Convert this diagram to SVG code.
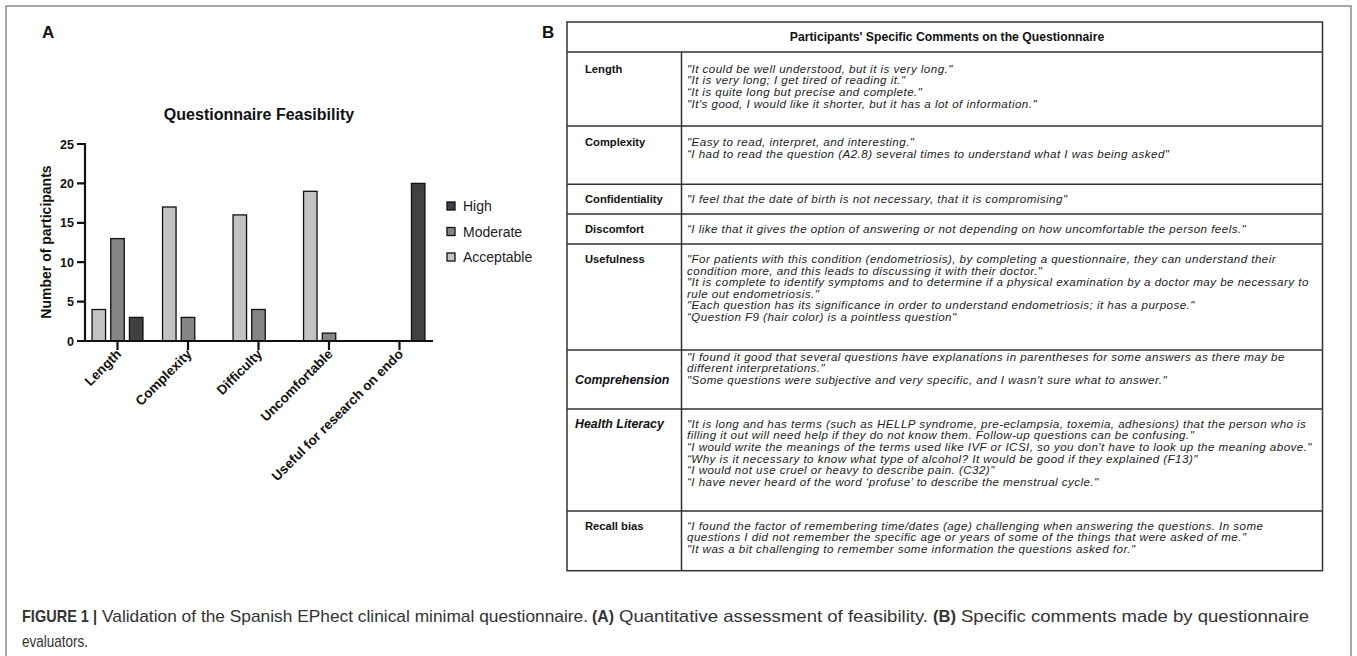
<svg xmlns="http://www.w3.org/2000/svg" width="1357" height="656" viewBox="0 0 1357 656">
<style>
.frame{fill:#fff;stroke:#8a8a8a;stroke-width:1.5}
.panel{font-family:"Liberation Sans",Arial,sans-serif;font-weight:bold;font-size:17px;fill:#111}
.title{font-family:"Liberation Sans",Arial,sans-serif;font-weight:bold;font-size:16px;fill:#111;text-anchor:middle}
.axis{stroke:#111;stroke-width:2.2;fill:none}
.tick{font-family:"Liberation Sans",Arial,sans-serif;font-weight:bold;font-size:12.5px;fill:#111;text-anchor:end}
.ylab{font-family:"Liberation Sans",Arial,sans-serif;font-weight:bold;font-size:14px;fill:#111;text-anchor:middle}
.xlab{font-family:"Liberation Sans",Arial,sans-serif;font-weight:bold;font-size:13.5px;fill:#111;text-anchor:end}
.bar{stroke:#111;stroke-width:1.3}
.hi{fill:#414141}.mo{fill:#858585}.ac{fill:#c3c3c3}
.leg{font-family:"Liberation Sans",Arial,sans-serif;font-size:14px;fill:#222}
.grid{stroke:#333;stroke-width:1.5;fill:none}
.th{font-family:"Liberation Sans",Arial,sans-serif;font-weight:bold;font-size:12.2px;fill:#111;text-anchor:middle}
.rl{font-family:"Liberation Sans",Arial,sans-serif;font-weight:bold;font-size:11.2px;fill:#111}
.rli{font-family:"Liberation Sans",Arial,sans-serif;font-weight:bold;font-style:italic;font-size:12.4px;fill:#111}
.cm{font-family:"Liberation Sans",Arial,sans-serif;font-style:italic;font-size:11.6px;letter-spacing:0.45px;fill:#222}
.cap{font-family:"Liberation Sans",Arial,sans-serif;font-size:17px;fill:#333}
.capb{font-family:"Liberation Sans",Arial,sans-serif;font-size:17px;font-weight:bold;fill:#333}
</style>
<rect class="frame" x="6" y="6" width="1345" height="670"/>

<g id="panel-a">
<text class="panel" x="42" y="38">A</text>
<text class="title" x="259" y="120">Questionnaire Feasibility</text>
<text class="ylab" transform="translate(51,242) rotate(-90)">Number of participants</text>
<g id="y-ticks">
<path class="axis" d="M77 144H85M77 183.4H85M77 222.8H85M77 262.2H85M77 301.6H85M77 341H85"/>
<text class="tick" x="74" y="148.5">25</text>
<text class="tick" x="74" y="187.9">20</text>
<text class="tick" x="74" y="227.3">15</text>
<text class="tick" x="74" y="266.7">10</text>
<text class="tick" x="74" y="306.1">5</text>
<text class="tick" x="74" y="345.5">0</text>
</g>
<g id="bars">
<rect class="bar ac" x="92.05" y="309.5" width="13.5" height="31.5"/>
<rect class="bar mo" x="110.75" y="238.6" width="13.5" height="102.4"/>
<rect class="bar hi" x="129.45" y="317.4" width="13.5" height="23.6"/>
<rect class="bar ac" x="162.55" y="207" width="13.5" height="134"/>
<rect class="bar mo" x="181.25" y="317.4" width="13.5" height="23.6"/>
<rect class="bar ac" x="233.05" y="214.9" width="13.5" height="126.1"/>
<rect class="bar mo" x="251.75" y="309.5" width="13.5" height="31.5"/>
<rect class="bar ac" x="303.55" y="191.3" width="13.5" height="149.7"/>
<rect class="bar mo" x="322.25" y="333.1" width="13.5" height="7.9"/>
<rect class="bar hi" x="411.45" y="183.4" width="13.5" height="157.6"/>
</g>
<path class="axis" d="M85 143V342M84 341H433"/>
<path class="axis" d="M117.5 341V350M188 341V350M258.5 341V350M329 341V350M399.5 341V350"/>
<g id="x-labels">
<text class="xlab" transform="translate(122,355) rotate(-45)">Length</text>
<text class="xlab" transform="translate(192.5,355) rotate(-45)">Complexity</text>
<text class="xlab" transform="translate(263,355) rotate(-45)">Difficulty</text>
<text class="xlab" transform="translate(333.5,355) rotate(-45)">Uncomfortable</text>
<text class="xlab" transform="translate(404,355) rotate(-45)">Useful for research on endo</text>
</g>
<g id="legend">
<rect class="bar hi" x="447" y="202" width="8" height="8"/>
<rect class="bar mo" x="447" y="227.5" width="8" height="8"/>
<rect class="bar ac" x="447" y="253" width="8" height="8"/>
<text class="leg" x="463" y="211">High</text>
<text class="leg" x="463" y="236.5">Moderate</text>
<text class="leg" x="463" y="262">Acceptable</text>
</g>
</g>

<g id="panel-b">
<text class="panel" x="542" y="38">B</text>
<g id="table-grid">
<rect class="grid" x="567" y="22" width="755.5" height="548.7"/>
<path class="grid" d="M567 52H1322.5M567 126H1322.5M567 184.3H1322.5M567 214H1322.5M567 244H1322.5M567 350H1322.5M567 409H1322.5M567 511H1322.5M681.5 52V570.7"/>
</g>
<text class="th" x="947" y="40.5">Participants' Specific Comments on the Questionnaire</text>
<g id="row-length">
<text class="rl" x="585" y="72.5">Length</text>
<text class="cm" x="687" y="72.5">"It could be well understood, but it is very long."</text>
<text class="cm" x="687" y="84.3">"It is very long; I get tired of reading it."</text>
<text class="cm" x="687" y="96.1">“It is quite long but precise and complete."</text>
<text class="cm" x="687" y="107.9">"It's good, I would like it shorter, but it has a lot of information."</text>
</g>
<g id="row-complexity">
<text class="rl" x="585" y="146">Complexity</text>
<text class="cm" x="687" y="146">"Easy to read, interpret, and interesting."</text>
<text class="cm" x="687" y="157.8">“I had to read the question (A2.8) several times to understand what I was being asked"</text>
</g>
<g id="row-confidentiality">
<text class="rl" x="585" y="203">Confidentiality</text>
<text class="cm" x="687" y="203">"I feel that the date of birth is not necessary, that it is compromising"</text>
</g>
<g id="row-discomfort">
<text class="rl" x="585" y="233">Discomfort</text>
<text class="cm" x="687" y="233">“I like that it gives the option of answering or not depending on how uncomfortable the person feels."</text>
</g>
<g id="row-usefulness">
<text class="rl" x="585" y="263">Usefulness</text>
<text class="cm" x="687" y="263">"For patients with this condition (endometriosis), by completing a questionnaire, they can understand their</text>
<text class="cm" x="687" y="274.6">condition more, and this leads to discussing it with their doctor."</text>
<text class="cm" x="687" y="286.2">"It is complete to identify symptoms and to determine if a physical examination by a doctor may be necessary to</text>
<text class="cm" x="687" y="297.8">rule out endometriosis."</text>
<text class="cm" x="687" y="309.4">"Each question has its significance in order to understand endometriosis; it has a purpose."</text>
<text class="cm" x="687" y="321">“Question F9 (hair color) is a pointless question"</text>
</g>
<g id="row-comprehension">
<text class="rli" x="575" y="383.7">Comprehension</text>
<text class="cm" x="687" y="360.5">"I found it good that several questions have explanations in parentheses for some answers as there may be</text>
<text class="cm" x="687" y="372.1">different interpretations."</text>
<text class="cm" x="687" y="383.7">"Some questions were subjective and very specific, and I wasn't sure what to answer."</text>
</g>
<g id="row-health-literacy">
<text class="rli" x="575" y="427.5">Health Literacy</text>
<text class="cm" x="687" y="427.5">"It is long and has terms (such as HELLP syndrome, pre-eclampsia, toxemia, adhesions) that the person who is</text>
<text class="cm" x="687" y="439.2">filling it out will need help if they do not know them. Follow-up questions can be confusing."</text>
<text class="cm" x="687" y="450.9">“I would write the meanings of the terms used like IVF or ICSI, so you don't have to look up the meaning above."</text>
<text class="cm" x="687" y="462.6">“Why is it necessary to know what type of alcohol? It would be good if they explained (F13)"</text>
<text class="cm" x="687" y="474.3">“I would not use cruel or heavy to describe pain. (C32)"</text>
<text class="cm" x="687" y="486">“I have never heard of the word ‘profuse’ to describe the menstrual cycle."</text>
</g>
<g id="row-recall-bias">
<text class="rl" x="585" y="529.5">Recall bias</text>
<text class="cm" x="687" y="529.5">“I found the factor of remembering time/dates (age) challenging when answering the questions. In some</text>
<text class="cm" x="687" y="541.2">questions I did not remember the specific age or years of some of the things that were asked of me."</text>
<text class="cm" x="687" y="552.9">"It was a bit challenging to remember some information the questions asked for."</text>
</g>
</g>

<g id="caption">
<text class="capb" x="22" y="622" textLength="75" lengthAdjust="spacingAndGlyphs">FIGURE 1 |</text>
<text class="cap" x="102" y="622" textLength="486" lengthAdjust="spacingAndGlyphs">Validation of the Spanish EPhect clinical minimal questionnaire.</text>
<text class="capb" x="592" y="622" textLength="22" lengthAdjust="spacingAndGlyphs">(A)</text>
<text class="cap" x="619" y="622" textLength="309" lengthAdjust="spacingAndGlyphs">Quantitative assessment of feasibility.</text>
<text class="capb" x="933" y="622" textLength="23" lengthAdjust="spacingAndGlyphs">(B)</text>
<text class="cap" x="961" y="622" textLength="348" lengthAdjust="spacingAndGlyphs">Specific comments made by questionnaire</text>
<text class="cap" x="22" y="647" textLength="66" lengthAdjust="spacingAndGlyphs">evaluators.</text>
</g>
</svg>
